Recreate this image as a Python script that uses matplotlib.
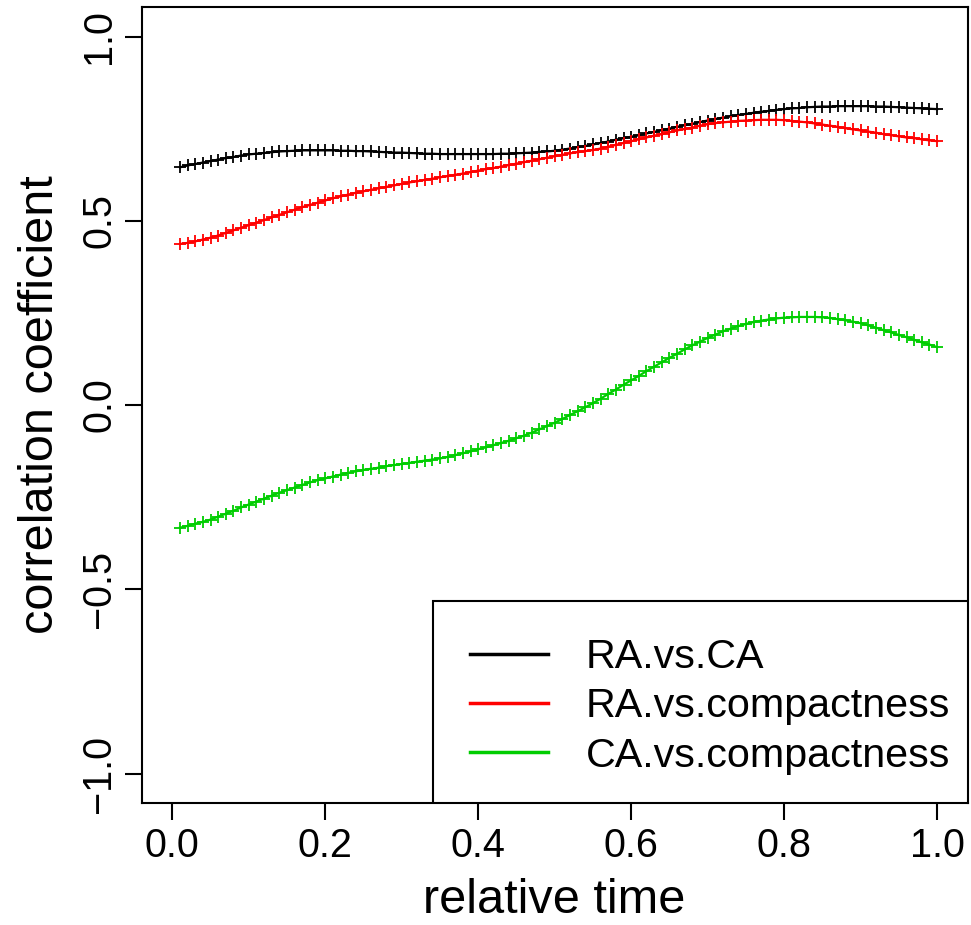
import numpy as np
import matplotlib
matplotlib.use("Agg")
import matplotlib.pyplot as plt
from matplotlib.lines import Line2D
from matplotlib.patches import Rectangle

plt.rcParams['font.family'] = ['Liberation Sans', 'DejaVu Sans']

# relative time grid (100 steps)
rel_time = np.arange(1, 101) / 100

ra_vs_ca = [
    0.645, 0.650, 0.654, 0.658, 0.662, 0.666, 0.670, 0.673, 0.677, 0.680,
    0.682, 0.684, 0.686, 0.688, 0.689, 0.690, 0.691, 0.691, 0.691, 0.691,
    0.691, 0.690, 0.690, 0.689, 0.689, 0.688, 0.687, 0.686, 0.685, 0.685,
    0.684, 0.683, 0.682, 0.682, 0.681, 0.681, 0.681, 0.681, 0.681, 0.681,
    0.681, 0.681, 0.682, 0.682, 0.683, 0.684, 0.685, 0.687, 0.688, 0.690,
    0.693, 0.696, 0.700, 0.703, 0.707, 0.711, 0.715, 0.720, 0.724, 0.728,
    0.732, 0.737, 0.741, 0.746, 0.750, 0.755, 0.759, 0.763, 0.768, 0.772,
    0.776, 0.780, 0.783, 0.787, 0.790, 0.793, 0.796, 0.798, 0.801, 0.803,
    0.805, 0.806, 0.808, 0.809, 0.810, 0.810, 0.811, 0.811, 0.811, 0.811,
    0.811, 0.810, 0.810, 0.809, 0.808, 0.807, 0.806, 0.805, 0.804, 0.803,
]

ra_vs_compactness = [
    0.437, 0.440, 0.444, 0.449, 0.454, 0.460, 0.467, 0.474, 0.481, 0.488,
    0.495, 0.502, 0.509, 0.516, 0.523, 0.530, 0.537, 0.543, 0.549, 0.555,
    0.561, 0.566, 0.571, 0.576, 0.580, 0.584, 0.588, 0.592, 0.596, 0.600,
    0.604, 0.607, 0.611, 0.614, 0.618, 0.621, 0.625, 0.628, 0.632, 0.636,
    0.640, 0.643, 0.647, 0.651, 0.655, 0.659, 0.663, 0.667, 0.671, 0.675,
    0.679, 0.683, 0.686, 0.689, 0.692, 0.696, 0.701, 0.706, 0.711, 0.716,
    0.721, 0.726, 0.731, 0.735, 0.740, 0.745, 0.749, 0.753, 0.758, 0.762,
    0.765, 0.767, 0.769, 0.771, 0.772, 0.773, 0.774, 0.774, 0.774, 0.773,
    0.771, 0.769, 0.767, 0.764, 0.761, 0.758, 0.755, 0.751, 0.748, 0.745,
    0.742, 0.739, 0.735, 0.732, 0.729, 0.726, 0.724, 0.721, 0.718, 0.716,
]

ca_vs_compactness = [
    -0.333, -0.328, -0.322, -0.317, -0.311, -0.303, -0.295, -0.287, -0.278, -0.270,
    -0.262, -0.254, -0.246, -0.238, -0.231, -0.224, -0.217, -0.210, -0.204, -0.199,
    -0.194, -0.189, -0.184, -0.180, -0.176, -0.173, -0.170, -0.166, -0.163, -0.160,
    -0.157, -0.154, -0.151, -0.148, -0.145, -0.141, -0.136, -0.131, -0.126, -0.120,
    -0.115, -0.109, -0.103, -0.097, -0.090, -0.083, -0.075, -0.066, -0.057, -0.048,
    -0.038, -0.027, -0.017, -0.006, 0.005, 0.017, 0.030, 0.042, 0.055, 0.067,
    0.079, 0.092, 0.104, 0.116, 0.128, 0.139, 0.151, 0.162, 0.172, 0.182,
    0.191, 0.200, 0.207, 0.214, 0.220, 0.225, 0.229, 0.232, 0.235, 0.237,
    0.238, 0.239, 0.239, 0.239, 0.238, 0.236, 0.233, 0.230, 0.226, 0.222,
    0.216, 0.210, 0.203, 0.197, 0.190, 0.184, 0.177, 0.170, 0.164, 0.157,
]

series_names = ["RA.vs.CA", "RA.vs.compactness", "CA.vs.compactness"]
series_colors = ["black", "#FF0000", "#00CD00"]

fig = plt.figure(figsize=(9.71, 9.25), dpi=100)
ax = fig.add_axes([0.1459, 0.1319, 0.8507, 0.8605])

for vals, col in zip([ra_vs_ca, ra_vs_compactness, ca_vs_compactness], series_colors):
    ax.plot(rel_time, vals, color=col, lw=1.6, marker='+', ms=8.5, mew=1.3)

ax.set_xlim(-0.04, 1.04)
ax.set_ylim(-1.08, 1.08)
ax.set_xticks([0.0, 0.2, 0.4, 0.6, 0.8, 1.0])
ax.set_yticks([-1.0, -0.5, 0.0, 0.5, 1.0])
ax.set_xticklabels(["0.0", "0.2", "0.4", "0.6", "0.8", "1.0"])
ax.set_yticklabels(["\u22121.0", "\u22120.5", "0.0", "0.5", "1.0"])
ax.tick_params(length=12, width=1.5, labelsize=28.5, pad=5)
plt.setp(ax.get_yticklabels(), rotation=90, va='center')
for s in ax.spines.values():
    s.set_linewidth(1.5)

ax.set_xlabel("relative time", fontsize=35, labelpad=10)
ax.set_ylabel("correlation coefficient", fontsize=35, labelpad=12)

# legend box like R's bottomright legend, flush to the axes corner
box = Rectangle((0.3527, 0.0), 0.6473, 0.2538, transform=ax.transAxes,
                facecolor='white', edgecolor='black', lw=1.5, zorder=4)
ax.add_patch(box)
handles = [Line2D([], [], color=c, lw=2.5) for c in series_colors]
leg = ax.legend(handles, series_names, loc='upper left',
                bbox_to_anchor=(0.3975, 0.207), fontsize=29.7,
                borderaxespad=0, borderpad=0, frameon=False,
                handlelength=1.9, handletextpad=0.9,
                labelspacing=0.27)
leg.set_zorder(5)

fig.savefig("out.png", dpi=100)
